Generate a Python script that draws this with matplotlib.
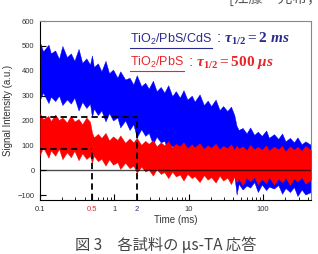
import numpy as np
import matplotlib
matplotlib.use("Agg")
import matplotlib.pyplot as plt
from matplotlib.lines import Line2D

plt.rcParams["font.family"] = ["Liberation Sans", "DejaVu Sans"]
plt.rcParams["mathtext.fontset"] = "custom"
plt.rcParams["mathtext.rm"] = "Liberation Serif:bold"
plt.rcParams["mathtext.it"] = "Liberation Serif:italic:bold"
plt.rcParams["mathtext.sf"] = "Liberation Sans"

# ---------------------------------------------------------------------------
# Signal envelopes (time in ms, signal in a.u.)
# ---------------------------------------------------------------------------
t = [0.10, 0.11, 0.13, 0.14, 0.16, 0.18, 0.20, 0.23, 0.26, 0.29,
     0.33, 0.37, 0.42, 0.47, 0.50, 0.53, 0.60, 0.67, 0.76, 0.85,
     0.96, 1.1, 1.2, 1.4, 1.6, 1.8, 2.0, 2.3, 2.6, 2.9,
     3.3, 3.7, 4.2, 4.7, 5.3, 6.0, 6.7, 7.6, 8.5, 9.6,
     11, 12, 14, 16, 18, 20, 23, 26, 29, 33,
     37, 41, 44, 47, 53, 60, 67, 76, 85, 96,
     110, 120, 140, 160, 180, 200, 230, 260, 290, 330,
     370, 440]

# TiO2/PbS/CdS (blue)
cds_hi = [515, 478, 505, 470, 482, 448, 500, 455, 470, 440,
          488, 432, 450, 425, 462, 415, 430, 398, 440, 390,
          405, 372, 398, 365, 372, 345, 382, 338, 352, 328,
          360, 318, 335, 312, 342, 298, 318, 292, 322, 284,
          300, 276, 305, 262, 280, 258, 284, 242, 258, 238,
          256, 222, 178, 162, 170, 148, 172, 142, 155, 138,
          160, 130, 145, 126, 148, 116, 130, 112, 132, 104,
          116, 102]
cds_lo = [285, 312, 270, 296, 278, 300, 262, 285, 268, 292,
          240, 275, 250, 268, 214, 248, 222, 240, 196, 230,
          200, 212, 172, 200, 162, 185, 132, 165, 138, 150,
          104, 135, 112, 118, 72, 100, 80, 88, 42, 70,
          48, 55, 12, 40, 20, 25, -18, 8, -5, -12,
          -48, -20, -98, -55, -78, -62, -70, -48, -88, -58,
          -80, -66, -74, -60, -95, -72, -88, -68, -104, -78,
          -98, -88]

# TiO2/PbS (red)
pbs_hi = [228, 206, 218, 198, 224, 202, 212, 192, 220, 196,
          206, 185, 212, 195, 152, 132, 146, 130, 150, 120,
          136, 122, 140, 110, 128, 112, 130, 102, 118, 106,
          122, 96, 112, 100, 116, 92, 106, 96, 112, 88,
          104, 92, 108, 86, 100, 90, 106, 84, 98, 88,
          104, 82, 100, 86, 96, 80, 102, 84, 94, 82,
          100, 78, 95, 84, 98, 76, 96, 82, 94, 78,
          98, 80]
pbs_lo = [62, 92, 50, 80, 58, 86, 44, 72, 52, 78,
          40, 68, 45, 58, 30, 58, 36, 46, 18, 44,
          22, 32, 5, 30, 8, 18, -10, 14, -5, 2,
          -22, 4, -15, -8, -32, -6, -25, -18, -42, -15,
          -32, -24, -48, -20, -38, -28, -50, -22, -42, -30,
          -56, -26, -48, -34, -60, -30, -45, -28, -56, -36,
          -52, -28, -58, -34, -48, -30, -60, -34, -46, -28,
          -54, -38]

# half-life markers
half_times = [0.5, 2]
half_levels = [85, 215]

xticks = [0.1, 0.5, 1, 2, 10, 100]
xtick_labels = ["0.1", "0.5", "1", "2", "10", "100"]
xtick_colors = ["#333333", "#e8262a", "#333333", "#2b2b8f", "#333333", "#333333"]
yticks = [-100, 0, 100, 200, 300, 400, 500, 600]

fig = plt.figure(figsize=(3.18, 2.54), dpi=100)
ax = fig.add_axes([0.1258, 0.2126, 0.852, 0.7044])

ax.fill_between(t, cds_lo, cds_hi, color="#0000ff", lw=0.3, zorder=2)
ax.fill_between(t, pbs_lo, pbs_hi, color="#ff0000", lw=0.3, zorder=3)

ax.axhline(0, color="black", lw=1.0, alpha=0.7, zorder=4)

for tt, lv in zip(half_times, half_levels):
    ax.plot([0.1, tt], [lv, lv], color="black", lw=1.3, ls=(0, (3.5, 2.2)), zorder=5)
    ax.plot([tt, tt], [-120, lv], color="black", lw=1.3, ls=(0, (3.5, 2.2)), zorder=5)

ax.set_xscale("log")
ax.set_xlim(0.1, 440)
ax.set_ylim(-120, 600)
ax.set_xticks(xticks)
ax.set_xticklabels(xtick_labels)
ax.set_yticks(yticks)
ax.tick_params(axis="both", which="major", direction="in", length=4, width=0.8,
               labelsize=5.5, labelcolor="#333333", pad=4)
ax.tick_params(axis="x", which="minor", direction="in", length=2.5, width=0.6)
for lab, c in zip(ax.get_xticklabels(), xtick_colors):
    lab.set_color(c)

ax.spines["left"].set_color("black")
ax.spines["bottom"].set_color("black")
ax.spines["top"].set_color("#888888")
ax.spines["right"].set_color("#888888")
for s in ax.spines.values():
    s.set_linewidth(0.8)

ax.set_xlabel("Time (ms)", fontsize=7, color="#333333", labelpad=2)
ax.set_ylabel("Signal Intensity (a.u.)", fontsize=7, color="#333333", labelpad=3)

# legend-like annotations with underlined sample names
lines = [
    (r"$\mathsf{TiO_2/PbS/CdS}$", r" : $\tau_{1/2}=2\ ms$", "#2b2b8f", 0.831),
    (r"$\mathsf{TiO_2/PbS}$", r" : $\tau_{1/2}=500\ \mu s$", "#e8262a", 0.740),
]
fig.canvas.draw()
renderer = fig.canvas.get_renderer()
for name, rest, col, yy in lines:
    t1 = fig.text(0.409, yy, name, fontsize=9, color=col, va="baseline")
    bb = t1.get_window_extent(renderer)
    fig.add_artist(Line2D([bb.x0, bb.x1], [bb.y0 - 0.5, bb.y0 - 0.5],
                          color=col, lw=0.8, transform=None))
    fig.text(bb.x1 / fig.bbox.width, yy, rest, fontsize=11, color=col, va="baseline")

fig.text(0.52, 0.035, "図 3　各試料の μs-TA 応答", fontsize=11, color="#444444",
         ha="center", va="center", family=["Noto Sans CJK JP", "DejaVu Sans"])
fig.text(0.72, 1.005, "[江藤　光希，", fontsize=10.5, color="#555555",
         ha="left", va="center", family=["Noto Sans CJK JP", "DejaVu Sans"])

fig.savefig("out.png", dpi=100)
